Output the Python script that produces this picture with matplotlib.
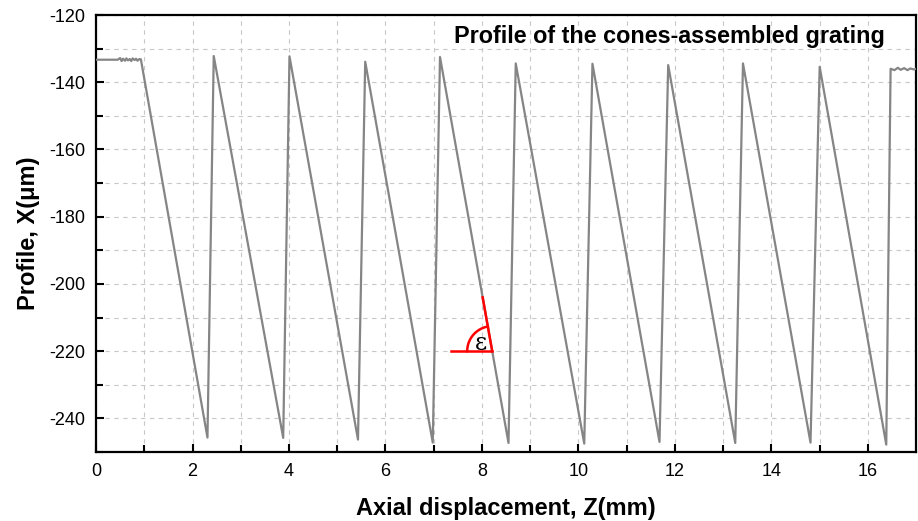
import numpy as np
import matplotlib.pyplot as plt

plt.rcParams['font.family'] = ['Liberation Sans', 'DejaVu Sans']
plt.rcParams['axes.unicode_minus'] = False

# flat start (noisy near the edge of the grating)
start_z = [0.0, 0.45, 0.50, 0.53, 0.56, 0.60, 0.63, 0.66, 0.70, 0.73, 0.76, 0.80, 0.83, 0.86, 0.90, 0.93]
start_x = [-133.3, -133.3, -132.8, -133.7, -133.0, -133.6, -132.9, -133.5, -133.1, -133.7, -132.9, -133.4, -133.0, -133.6, -133.1, -133.2]

# saw-tooth corners
valley_z = [2.31, 3.88, 5.43, 6.98, 8.55, 10.12, 11.68, 13.25, 14.81, 16.38]
valley_x = [-245.7, -245.8, -246.3, -247.2, -247.3, -247.5, -247.0, -247.3, -247.2, -247.8]
peak_z = [2.44, 4.01, 5.58, 7.13, 8.70, 10.29, 11.86, 13.41, 15.00]
peak_x = [-132.2, -132.3, -133.9, -132.5, -134.4, -134.5, -134.9, -134.4, -135.4]

# flat end
end_z = [16.47, 16.55, 16.62, 16.68, 16.75, 16.82, 16.88, 16.95, 17.0]
end_x = [-136.0, -136.4, -135.7, -136.3, -135.8, -136.4, -135.9, -136.2, -136.0]

eps_level = -220.0

z = list(start_z)
x = list(start_x)
for i in range(len(valley_z)):
    z.append(valley_z[i]); x.append(valley_x[i])
    if i < len(peak_z):
        z.append(peak_z[i]); x.append(peak_x[i])
z += end_z
x += end_x

fig = plt.figure(figsize=(9.18, 5.21), dpi=100)
ax = fig.add_axes([0.1046, 0.1324, 0.8934, 0.8388])

ax.plot(z, x, color='#858585', lw=1.6, zorder=3)

ax.set_xlim(0, 17)
ax.set_ylim(-250, -120)
ax.set_xticks(np.arange(0, 17, 2))
ax.set_xticks(np.arange(1, 17, 2), minor=True)
ax.set_yticks(np.arange(-240, -119, 20))
ax.set_yticks(np.arange(-250, -119, 10), minor=True)
ax.grid(True, which='both', color='#c8c8c8', ls=(0, (4, 4)), lw=0.8)
ax.tick_params(which='both', direction='in', labelsize=13, top=False, right=False, width=1.5)
ax.tick_params(which='major', length=6, pad=8)
ax.tick_params(which='minor', length=5)
for s in ax.spines.values():
    s.set_linewidth(1.6)

ax.set_xlabel('Axial displacement, Z(mm)', fontsize=17, fontweight='bold', labelpad=12)
ax.set_ylabel('Profile, X(\u03bcm)', fontsize=17, fontweight='bold', labelpad=6)
ax.text(0.962, 0.95, 'Profile of the cones-assembled grating', transform=ax.transAxes,
        ha='right', va='center', fontsize=16.8, fontweight='bold')

# angle annotation on the 5th falling flank
z0, x0 = peak_z[3], peak_x[3]
z1, x1 = valley_z[4], valley_x[4]
t = (eps_level - x0) / (x1 - x0)
vz = z0 + t * (z1 - z0)
ax.plot([vz - 0.85, vz], [eps_level, eps_level], color='red', lw=1.8, zorder=4)
t2 = (-204 - x0) / (x1 - x0)
ax.plot([z0 + t2 * (z1 - z0), vz], [-204, eps_level], color='red', lw=1.8, zorder=4)
# arc, round in pixels
fig.canvas.draw()
p_top = ax.transData.transform((z0, x0))
p_bot = ax.transData.transform((z1, x1))
ang = np.arctan2(p_top[1] - p_bot[1], p_top[0] - p_bot[0])
r_px = 25
sx = ax.transData.transform((1, 0))[0] - ax.transData.transform((0, 0))[0]
sy = ax.transData.transform((0, 1))[1] - ax.transData.transform((0, 0))[1]
th = np.linspace(ang, np.pi, 40)
ax.plot(vz + r_px / sx * np.cos(th), eps_level + r_px / sy * np.sin(th), color='red', lw=1.8, zorder=4)
ax.text(vz - 0.24, eps_level + 2.3, '\u03b5', fontsize=17, family=['DejaVu Serif'],
        ha='center', va='center', zorder=5)

fig.savefig('out.png', dpi=100)
